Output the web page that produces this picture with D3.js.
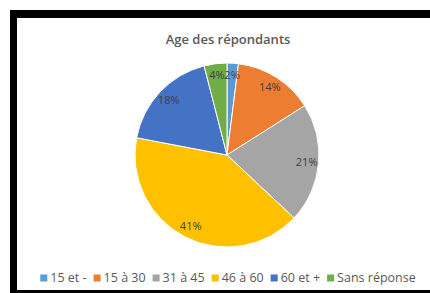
<!DOCTYPE html>
<html><head><meta charset="utf-8">
<script src="https://cdn.jsdelivr.net/npm/d3@7"></script>
<style>
html,body{margin:0;padding:0;background:#fff;}
svg{display:block;}
</style></head>
<body>
<svg id="c" width="430" height="293"></svg>
<script>
const categories = ["15 et -", "15 à 30", "31 à 45", "46 à 60", "60 et +", "Sans réponse"];
const values = [2, 14, 21, 41, 18, 4];
const labels = ["2%", "14%", "21%", "41%", "18%", "4%"];
const colors = ["#5B9BD5", "#ED7D31", "#A5A5A5", "#FFC000", "#4472C4", "#70AD47"];
const title = "Age des répondants";

const svg = d3.select("#c");
const font = "'Open Sans', 'Noto Sans', sans-serif";

// frame
svg.append("rect").attr("x", 10).attr("y", 10).attr("width", 440).attr("height", 290).attr("fill", "#000");
svg.append("rect").attr("x", 17).attr("y", 18).attr("width", 420).attr("height", 272).attr("fill", "#fff");

svg.append("text").attr("x", 228).attr("y", 44).attr("text-anchor", "middle")
  .attr("font-family", font).attr("font-size", 13).attr("font-weight", 600).attr("fill", "#595959").text(title);

const cx = 227, cy = 155, R = 92;
const pie = d3.pie().sort(null).value(d => d)(values);
const arc = d3.arc().innerRadius(0).outerRadius(R);
const labelArc = d3.arc().innerRadius(80).outerRadius(80);
const g = svg.append("g").attr("transform", `translate(${cx},${cy})`);
g.selectAll("path").data(pie).join("path").attr("d", arc)
  .attr("fill", (d, i) => colors[i]).attr("stroke", "#fff").attr("stroke-width", 1);
g.selectAll("text").data(pie).join("text")
  .attr("transform", d => `translate(${labelArc.centroid(d)})`)
  .attr("text-anchor", "middle").attr("dy", "0.35em")
  .attr("font-family", font).attr("font-size", 11).attr("fill", "#404040")
  .text((d, i) => labels[i]);

// legend
const lg = svg.append("g");
let x = 0;
const gap = 7;
categories.forEach((c, i) => {
  const it = lg.append("g");
  it.append("rect").attr("x", 0).attr("y", -3.5).attr("width", 7).attr("height", 7).attr("fill", colors[i]);
  const t = it.append("text").attr("x", 10).attr("y", 0).attr("dy", "0.35em")
    .attr("font-family", font).attr("font-size", 12.5).attr("fill", "#595959").text(c);
  const w = 10 + t.node().getComputedTextLength();
  it.attr("transform", `translate(${x},0)`);
  x += w + gap;
});
const total = x - gap;
lg.attr("transform", `translate(${228 - total / 2},278)`);
</script>
</body></html>
